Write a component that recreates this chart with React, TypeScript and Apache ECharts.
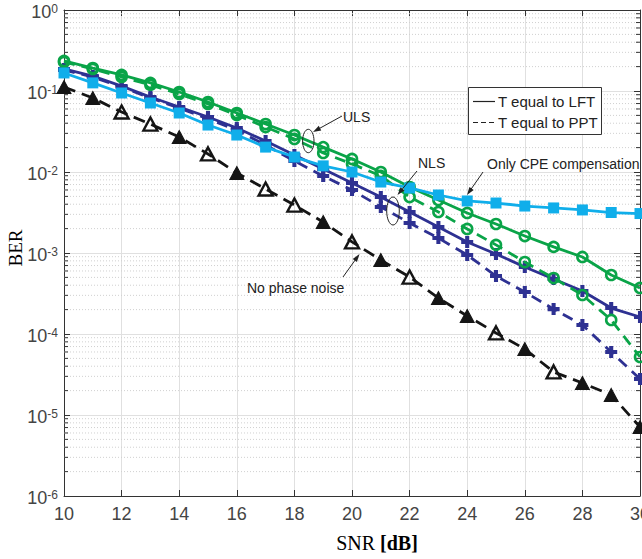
import React, { useEffect, useRef } from 'react';
import * as echarts from 'echarts';

const snr = [10, 11, 12, 13, 14, 15, 16, 17, 18, 19, 20, 21, 22, 23, 24, 25, 26, 27, 28, 29, 30];

// ULS, T equal to LFT (green solid, circles)
const ulsLFT = [0.235, 0.192, 0.158, 0.126, 0.0972, 0.0731, 0.0535, 0.0391, 0.0286, 0.0203, 0.0145, 0.0100, 0.00653, 0.00451, 0.00312, 0.00228, 0.00162, 0.00119, 0.000893, 0.000535, 0.000370];
// ULS, T equal to PPT (green dashed, circles)
const ulsPPT = [0.228, 0.187, 0.149, 0.119, 0.0918, 0.0691, 0.0505, 0.0359, 0.0256, 0.0172, 0.0126, 0.00893, 0.00491, 0.00321, 0.00198, 0.00126, 0.000774, 0.000491, 0.000303, 0.000149, 0.0000520];
// NLS, T equal to LFT (navy solid, plus)
const nlsLFT = [0.187, 0.153, 0.115, 0.0843, 0.0635, 0.0478, 0.0349, 0.0241, 0.0162, 0.0109, 0.00731, 0.00491, 0.00321, 0.00209, 0.00137, 0.000972, 0.000672, 0.000478, 0.000340, 0.000209, 0.000162];
// NLS, T equal to PPT (navy dashed, plus)
const nlsPPT = [0.182, 0.149, 0.112, 0.0820, 0.0617, 0.0451, 0.0330, 0.0215, 0.0137, 0.00893, 0.00599, 0.00370, 0.00235, 0.00153, 0.000945, 0.000520, 0.000330, 0.000203, 0.000129, 0.0000600, 0.0000278];
// Only CPE compensation (light blue solid, squares)
const cpeOnly = [0.167, 0.126, 0.0945, 0.0711, 0.0535, 0.0380, 0.0286, 0.0203, 0.0153, 0.0119, 0.0100, 0.00752, 0.00635, 0.00520, 0.00439, 0.00414, 0.00380, 0.00360, 0.00340, 0.00316, 0.00307];
// No phase noise (black dashed, triangles)
const noPN = [0.112, 0.0820, 0.0550, 0.0391, 0.0270, 0.0167, 0.00972, 0.00617, 0.00391, 0.00241, 0.00137, 0.000820, 0.000505, 0.000278, 0.000167, 0.000103, 0.0000653, 0.0000340, 0.0000248, 0.0000177, 0.00000711];
const noPNFilled = [1, 1, 0, 0, 1, 0, 1, 0, 0, 1, 0, 1, 0, 1, 1, 0, 1, 0, 1, 1, 1];

const xTicks = { min: 10, max: 30, interval: 2 };
const yDecades = { min: 1e-6, max: 1 };
const minorMantissas = [2, 3, 4, 5, 6, 7, 8, 9];
const minorExponents = [-6, -5, -4, -3, -2, -1];

const legendLabels = ['T equal to LFT', 'T equal to PPT'];

const GREEN = '#0aa448';
const NAVY = '#2e3192';
const LIGHTBLUE = '#10aeea';
const BLACK = '#151515';
const PLUS = 'path://M3.3,0H6.7V3.3H10V6.7H6.7V10H3.3V6.7H0V3.3H3.3Z';
const SANS = '"Liberation Sans", Arial, sans-serif';
const SERIF = '"Liberation Serif", "Times New Roman", serif';

function pairs(vals: number[]) {
  return vals.map((v, i) => [snr[i], v]);
}

function arrow(tx: number, ty: number, hx: number, hy: number) {
  const dx = hx - tx;
  const dy = hy - ty;
  const len = Math.sqrt(dx * dx + dy * dy);
  const ux = dx / len;
  const uy = dy / len;
  const nx = -uy;
  const ny = ux;
  const L = 8;
  const W = 2.6;
  return [
    {
      type: 'line',
      shape: { x1: tx, y1: ty, x2: hx - ux * 4, y2: hy - uy * 4 },
      style: { stroke: '#222', lineWidth: 1 },
      z: 100,
    },
    {
      type: 'polygon',
      shape: {
        points: [
          [hx, hy],
          [hx - ux * L + nx * W, hy - uy * L + ny * W],
          [hx - ux * L - nx * W, hy - uy * L - ny * W],
        ],
      },
      style: { fill: '#222' },
      z: 100,
    },
  ];
}

function annText(x: number, y: number, text: string) {
  return {
    type: 'text',
    x,
    y,
    z: 100,
    style: {
      text,
      font: `14px ${SANS}`,
      fill: '#222',
      textAlign: 'left',
      textVerticalAlign: 'middle',
    },
  };
}

export default function App() {
  const ref = useRef<HTMLDivElement>(null);

  useEffect(() => {
    const chart = echarts.init(ref.current as HTMLDivElement, null, { renderer: 'svg' });

    const minorData: number[][] = [];
    minorExponents.forEach((e) => {
      minorMantissas.forEach((m) => {
        minorData.push([xTicks.min, m * Math.pow(10, e)]);
      });
    });

    const blackData = noPN.map((v, i) => ({
      value: [snr[i], v],
      itemStyle: noPNFilled[i]
        ? { color: BLACK, borderColor: BLACK, borderWidth: 1 }
        : { color: 'rgba(255,255,255,0)', borderColor: BLACK, borderWidth: 2.4 },
    }));

    const axisCommonX = {
      type: 'value',
      min: xTicks.min,
      max: xTicks.max,
      interval: xTicks.interval,
    };
    const axisCommonY = {
      type: 'log',
      logBase: 10,
      min: yDecades.min,
      max: yDecades.max,
      interval: 1,
    };

    const option: any = {
      animation: false,
      backgroundColor: '#fff',
      grid: { left: 64, top: 10, right: 2, bottom: 63, containLabel: false, outerBoundsMode: 'none' },
      xAxis: [
        {
          ...axisCommonX,
          position: 'bottom',
          axisLine: { show: true, lineStyle: { color: '#333', width: 1 } },
          axisTick: { show: true, inside: true, length: 6, lineStyle: { color: '#333' } },
          axisLabel: {
            show: true,
            margin: 9,
            color: '#444',
            fontSize: 18,
            fontFamily: SANS,
            alignMinLabel: 'center',
            alignMaxLabel: 'center',
            hideOverlap: false,
          },
          splitLine: { show: true, lineStyle: { color: '#e0e0e0', width: 1 } },
        },
        {
          ...axisCommonX,
          position: 'top',
          axisLine: { show: true, lineStyle: { color: '#333', width: 1 } },
          axisTick: { show: true, inside: true, length: 6, lineStyle: { color: '#333' } },
          axisLabel: { show: false },
          splitLine: { show: false },
        },
      ],
      yAxis: [
        {
          ...axisCommonY,
          position: 'left',
          axisLine: { show: true, lineStyle: { color: '#333', width: 1 } },
          axisTick: { show: true, inside: true, length: 6, lineStyle: { color: '#333' } },
          axisLabel: {
            show: true,
            margin: 6,
            color: '#444',
            fontFamily: SANS,
            formatter: (v: number) => {
              const e = Math.round(Math.log10(v));
              return `{b|10}{s|${e}}`;
            },
            rich: {
              b: { fontSize: 18, fontFamily: SANS, color: '#444', lineHeight: 21, verticalAlign: 'bottom', padding: [3, 0, 0, 0] },
              s: { fontSize: 12, fontFamily: SANS, color: '#444', lineHeight: 12, verticalAlign: 'top', padding: [3, 0, 0, 0] },
            },
          },
          splitLine: { show: true, lineStyle: { color: '#e0e0e0', width: 1 } },
        },
        {
          ...axisCommonY,
          position: 'right',
          axisLine: { show: true, lineStyle: { color: '#333', width: 1 } },
          axisTick: { show: true, inside: true, length: 6, lineStyle: { color: '#333' } },
          axisLabel: { show: false },
          splitLine: { show: false },
        },
      ],
      series: [
        {
          type: 'custom',
          name: 'minor',
          xAxisIndex: 0,
          yAxisIndex: 0,
          silent: true,
          z: 1,
          data: minorData,
          renderItem: (params: any, api: any) => {
            const v = api.value(1);
            const p0 = api.coord([xTicks.min, v]);
            const p1 = api.coord([xTicks.max, v]);
            return {
              type: 'group',
              children: [
                {
                  type: 'line',
                  shape: { x1: p0[0], y1: p0[1], x2: p1[0], y2: p1[1] },
                  style: { stroke: '#d0d0d0', lineWidth: 1, lineDash: [1, 2] },
                },
                {
                  type: 'line',
                  shape: { x1: p0[0], y1: p0[1], x2: p0[0] + 4, y2: p0[1] },
                  style: { stroke: '#333', lineWidth: 1 },
                },
                {
                  type: 'line',
                  shape: { x1: p1[0] - 4, y1: p1[1], x2: p1[0], y2: p1[1] },
                  style: { stroke: '#333', lineWidth: 1 },
                },
              ],
            };
          },
        },
        {
          type: 'line',
          name: 'NLS LFT',
          data: pairs(nlsLFT),
          symbol: PLUS,
          symbolSize: 12,
          itemStyle: { color: NAVY },
          lineStyle: { color: NAVY, width: 2.8 },
          z: 3,
        },
        {
          type: 'line',
          name: 'NLS PPT',
          data: pairs(nlsPPT),
          symbol: PLUS,
          symbolSize: 12,
          itemStyle: { color: NAVY },
          lineStyle: { color: NAVY, width: 2.8, type: [11, 7] },
          z: 3,
        },
        {
          type: 'line',
          name: 'ULS LFT',
          data: pairs(ulsLFT),
          symbol: 'circle',
          symbolSize: 10,
          itemStyle: { color: 'rgba(255,255,255,0)', borderColor: GREEN, borderWidth: 2.6 },
          lineStyle: { color: GREEN, width: 2.8 },
          z: 4,
        },
        {
          type: 'line',
          name: 'ULS PPT',
          data: pairs(ulsPPT),
          symbol: 'circle',
          symbolSize: 10,
          itemStyle: { color: 'rgba(255,255,255,0)', borderColor: GREEN, borderWidth: 2.6 },
          lineStyle: { color: GREEN, width: 2.8, type: [11, 7] },
          z: 4,
        },
        {
          type: 'line',
          name: 'Only CPE',
          data: pairs(cpeOnly),
          symbol: 'rect',
          symbolSize: 11,
          itemStyle: { color: LIGHTBLUE },
          lineStyle: { color: LIGHTBLUE, width: 2.8 },
          z: 5,
        },
        {
          type: 'line',
          name: 'No phase noise',
          data: blackData,
          symbol: 'triangle',
          symbolSize: [14, 13],
          lineStyle: { color: BLACK, width: 2.8, type: [12, 7] },
          z: 6,
        },
      ],
      graphic: [
        // legend box
        {
          type: 'rect',
          shape: { x: 468.5, y: 87.5, width: 133, height: 47 },
          style: { fill: '#fff', stroke: '#333', lineWidth: 1 },
          z: 100,
        },
        {
          type: 'line',
          shape: { x1: 473, y1: 101.5, x2: 495, y2: 101.5 },
          style: { stroke: '#222', lineWidth: 1.2 },
          z: 101,
        },
        {
          type: 'line',
          shape: { x1: 473, y1: 122.5, x2: 495, y2: 122.5 },
          style: { stroke: '#222', lineWidth: 1.2, lineDash: [5, 3] },
          z: 101,
        },
        {
          type: 'text',
          x: 498,
          y: 101.5,
          z: 101,
          style: { text: legendLabels[0], font: `15px ${SANS}`, fill: '#222', textVerticalAlign: 'middle' },
        },
        {
          type: 'text',
          x: 498,
          y: 122.5,
          z: 101,
          style: { text: legendLabels[1], font: `15px ${SANS}`, fill: '#222', textVerticalAlign: 'middle' },
        },
        // annotations
        annText(343, 116.5, 'ULS'),
        ...arrow(342, 116, 313, 132),
        {
          type: 'ellipse',
          shape: { cx: 308.3, cy: 141, rx: 5.7, ry: 11.7 },
          style: { fill: 'none', stroke: '#222', lineWidth: 1 },
          z: 100,
        },
        annText(418, 162.5, 'NLS'),
        ...arrow(417, 171, 397.5, 195),
        {
          type: 'ellipse',
          shape: { cx: 393, cy: 211, rx: 6.3, ry: 14 },
          style: { fill: 'none', stroke: '#222', lineWidth: 1 },
          z: 100,
        },
        annText(487, 164, 'Only CPE compensation'),
        ...arrow(483, 172, 467, 195),
        annText(247, 288, 'No phase noise'),
        ...arrow(343, 277, 359.5, 254),
        // axis titles
        {
          type: 'text',
          x: 15,
          y: 248,
          rotation: Math.PI / 2,
          z: 100,
          style: {
            text: 'BER',
            font: `19px ${SERIF}`,
            fill: '#000',
            textAlign: 'center',
            textVerticalAlign: 'middle',
          },
        },
        {
          type: 'text',
          x: 377,
          y: 543,
          z: 100,
          style: {
            text: '{n|SNR }{b|[dB]}',
            textAlign: 'center',
            textVerticalAlign: 'middle',
            rich: {
              n: { font: `20px ${SERIF}`, fill: '#000' },
              b: { font: `bold 20px ${SERIF}`, fill: '#000' },
            },
          },
        },
      ],
    };

    chart.setOption(option);
    return () => chart.dispose();
  }, []);

  return (
    <div
      ref={ref}
      style={{ position: 'fixed', left: 0, top: 0, width: 642, height: 559, background: '#fff' }}
    />
  );
}
